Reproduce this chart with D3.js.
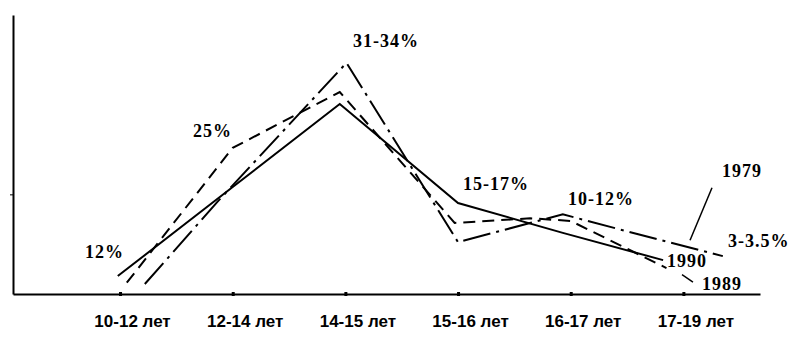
<!DOCTYPE html>
<html>
<head>
<meta charset="utf-8">
<script src="https://cdn.jsdelivr.net/npm/d3@7"></script>
<style>
  body { margin: 0; background: #fff; }
  svg { display: block; }
  .cat text { font-family: 'Liberation Sans', Arial, sans-serif; font-weight: bold; font-size: 17px; fill: #000; }
  .note { font-family: 'Liberation Serif', serif; font-weight: bold; font-size: 18px; letter-spacing: 1px; fill: #000; }
</style>
</head>
<body>
<script>
// Категории по оси X
const categories = ['10-12 лет', '12-14 лет', '14-15 лет', '15-16 лет', '16-17 лет', '17-19 лет']

// Точки линий: позиция по категории (индекс, может быть дробной) и значение, %
const x1990 = [-0.02, 1, 1.95, 3.0, 3.93, 4.82]
const v1990 = [2.7, 16.1, 28.6, 13.7, 9.2, 5.1]

const x1989 = [0.06, 1, 1.95, 2.97, 3.64, 4.0, 4.85]
const v1989 = [1.7, 22.0, 30.4, 10.7, 11.4, 11.0, 3.9]

const x1979 = [0.22, 0.86, 2.01, 3.0, 3.93, 4.53, 5.35]
const v1979 = [1.5, 13.8, 34.8, 7.8, 12.0, 9.3, 5.7]

// Подписи
const noteTexts = ['12%', '25%', '31-34%', '15-17%', '10-12%', '1979', '3-3.5%', '1990', '1989']
const yTicks = [15]

const width = 800
const height = 344

const svg = d3.select('body').append('svg')
	.attr('width', width)
	.attr('height', height)

const x = d3.scaleLinear().domain([-0.95, 5.68]).range([13, 760])
const y = d3.scaleLinear().domain([0, 42]).range([294, 15])

// оси
const xaxis = d3.axisBottom(x)
	.tickValues(d3.range(categories.length))
	.tickFormat(i => categories[i])
	.tickSizeOuter(0)
const g_x = svg.append('g').attr('class', 'cat').attr('transform', `translate(0,${y(0)})`).call(xaxis)
g_x.select('.domain').attr('stroke', '#000').attr('stroke-width', 2)
g_x.selectAll('.tick line').attr('y1', -2).attr('y2', 2).attr('stroke-width', 3).attr('stroke', '#000')
g_x.selectAll('.tick text').attr('y', 33).attr('dy', 0).attr('dx', 12)

const yaxis = d3.axisLeft(y).tickValues(yTicks).tickSize(3).tickFormat('').tickSizeOuter(0)
const g_y = svg.append('g').attr('transform', `translate(${x(-0.95)},0)`).call(yaxis)
g_y.select('.domain').attr('stroke', '#000').attr('stroke-width', 2)
g_y.selectAll('.tick line').attr('stroke', '#000')

// линии
const line = d3.line().x(d => x(d[0])).y(d => y(d[1]))
const series = [
	{ xs: x1990, vs: v1990, dash: null },
	{ xs: x1989, vs: v1989, dash: '12,7' },
	{ xs: x1979, vs: v1979, dash: '28,6,3,6' }
]
svg.selectAll('path.series')
	.data(series)
	.join('path')
	.attr('class', 'series')
	.attr('d', s => line(d3.zip(s.xs, s.vs)))
	.attr('fill', 'none')
	.attr('stroke', '#000')
	.attr('stroke-width', 2)
	.attr('stroke-dasharray', s => s.dash)

// выноски
const leaders = [
	[[5.254, 16.0], [5.059, 8.1]],
	[[4.988, 2.9], [5.085, 1.8]]
]
svg.selectAll('path.leader')
	.data(leaders)
	.join('path')
	.attr('class', 'leader')
	.attr('d', line)
	.attr('stroke', '#000')
	.attr('stroke-width', 1.5)

// положение подписей (индекс категории, значение)
const noteAt = [[-0.311, 5.42], [0.648, 23.6], [2.068, 37.2], [3.044, 15.7], [3.976, 13.4],
	[5.343, 17.6], [5.396, 7.1], [4.855, 4.1], [5.165, 0.6]]
svg.selectAll('text.note')
	.data(noteTexts)
	.join('text')
	.attr('class', 'note')
	.attr('x', (d, i) => x(noteAt[i][0]))
	.attr('y', (d, i) => y(noteAt[i][1]))
	.text(d => d)
</script>
</body>
</html>
